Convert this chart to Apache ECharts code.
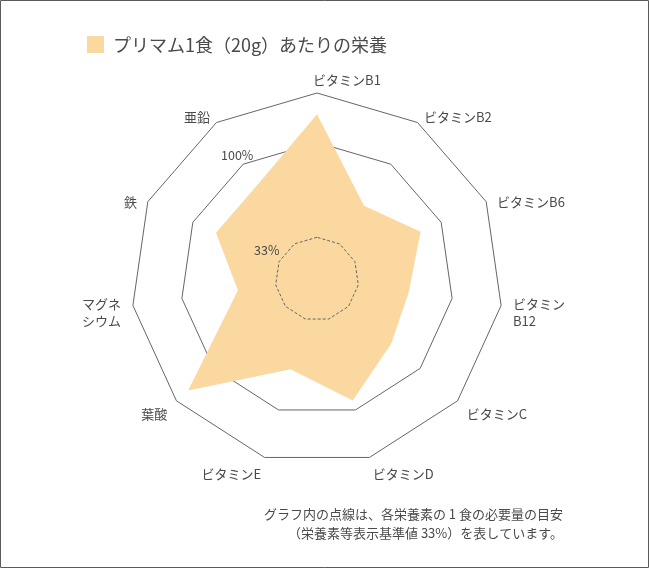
<!DOCTYPE html>
<html><head><meta charset="utf-8">
<script src="https://cdn.jsdelivr.net/npm/echarts@6/dist/echarts.min.js"></script>
<style>html,body{margin:0;padding:0;background:#fff}#c{width:649px;height:568px}</style>
</head><body><div id="c"></div>
<script>
// clockwise from the top
const indicatorNames = ['ビタミンB1','ビタミンB2','ビタミンB6','ビタミン\nB12','ビタミンC','ビタミンD','ビタミンE','葉酸','マグネ\nシウム','鉄','亜鉛'];
const nutritionValues = [120, 65, 84, 69, 73, 93, 70, 124, 60, 82, 82];
const ring100Values = [100,100,100,100,100,100,100,100,100,100,100];
const ring33Values = [33,33,33,33,33,33,33,33,33,33,33];
const ringLabels = ['100%', '33%'];
const titleText = 'プリマム1食（20g）あたりの栄養';
const noteLines = ['グラフ内の点線は、各栄養素の 1 食の必要量の目安', '（栄養素等表示基準値 33%）を表しています。'];
const scaleMin = 3.5, scaleMax = 135;

// ECharts radar runs counter-clockwise; reorder so the picture runs clockwise
const order = [0].concat(indicatorNames.map((_, i) => i).slice(1).reverse());
const reorder = arr => order.map(i => arr[i]);

const textColor = '#4a4a4a';
const lineColor = '#666';
const fillColor = '#FAD8A0';
const font = '"Noto Sans CJK JP", "Noto Sans", sans-serif';

const chart = echarts.init(document.getElementById('c'), null, {renderer: 'canvas'});
chart.setOption({
  animation: false,
  backgroundColor: '#fff',
  textStyle: {fontFamily: font},
  radar: {
    center: [317, 279],
    radius: 186,
    startAngle: 90,
    splitNumber: 1,
    shape: 'polygon',
    indicator: reorder(indicatorNames).map(n => ({name: n, min: scaleMin, max: scaleMax})),
    nameGap: 12,
    axisName: {
      color: textColor,
      fontSize: 13,
      fontFamily: font,
      lineHeight: 17,
      padding: [10, 0, 0, 0],
      formatter: function (name) {
        if (name === indicatorNames[0]) return '{b1|' + name + '}';
        return name;
      },
      rich: {
        b1: {padding: [0, 0, 0, 60], lineHeight: 2, color: textColor, fontSize: 13, fontFamily: font}
      }
    },
    axisLine: {show: false},
    axisTick: {show: false},
    axisLabel: {show: false},
    splitArea: {show: false},
    splitLine: {lineStyle: {color: lineColor, width: 1}}
  },
  series: [
    {
      type: 'radar', z: 2, silent: true, symbol: 'none',
      lineStyle: {color: lineColor, width: 1},
      data: [{value: reorder(ring100Values)}]
    },
    {
      type: 'radar', z: 3, silent: true, symbol: 'none',
      lineStyle: {width: 0, color: fillColor},
      areaStyle: {color: fillColor, opacity: 1},
      data: [{value: reorder(nutritionValues)}]
    },
    {
      type: 'radar', z: 4, silent: true, symbol: 'none',
      lineStyle: {color: lineColor, width: 1, type: [3, 2]},
      data: [{value: reorder(ring33Values)}]
    }
  ],
  graphic: [
    {type: 'rect', shape: {x: 0.5, y: 0.5, width: 648, height: 567}, style: {fill: 'none', stroke: '#5a5a5a', lineWidth: 1}, z: 100},
    {type: 'rect', shape: {x: 87, y: 36, width: 17, height: 17}, style: {fill: fillColor}},
    {type: 'text', x: 113, y: 45, style: {text: titleText, fill: textColor, fontSize: 18, fontFamily: font, textVerticalAlign: 'middle'}},
    {type: 'text', x: 221, y: 155, z: 10, style: {text: ringLabels[0], fill: textColor, fontSize: 12.5, fontFamily: font, textVerticalAlign: 'middle'}},
    {type: 'text', x: 254, y: 250, z: 10, style: {text: ringLabels[1], fill: textColor, fontSize: 12.5, fontFamily: font, textVerticalAlign: 'middle'}},
    {type: 'text', x: 563, y: 514, style: {text: noteLines[0], fill: textColor, fontSize: 13, fontFamily: font, textAlign: 'right', textVerticalAlign: 'middle'}},
    {type: 'text', x: 563, y: 533, style: {text: noteLines[1], fill: textColor, fontSize: 13, fontFamily: font, textAlign: 'right', textVerticalAlign: 'middle'}}
  ]
});
</script></body></html>
